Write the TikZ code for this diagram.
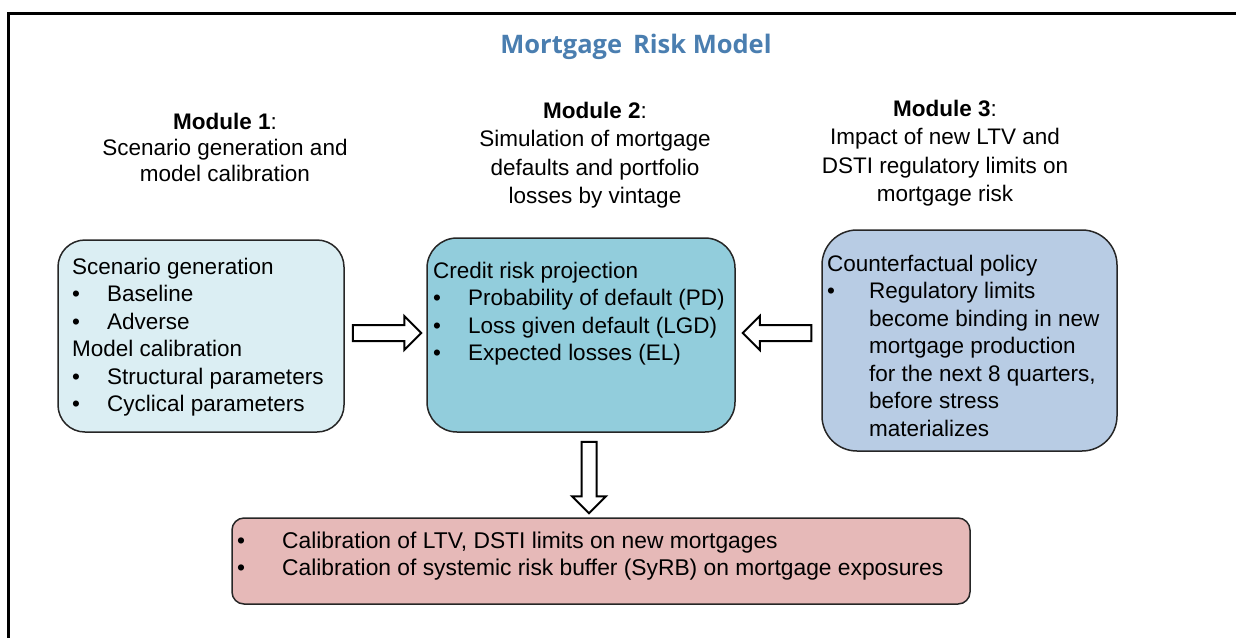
\documentclass[tikz,border=0pt]{standalone}
\usepackage{fontspec}
\setmainfont{Liberation Sans}
\newfontfamily\titlefont{Open Sans}
\usetikzlibrary{calc}
\definecolor{titleblue}{RGB}{74,126,176}
\definecolor{boxA}{RGB}{219,238,243}
\definecolor{boxB}{RGB}{146,205,220}
\definecolor{boxC}{RGB}{184,204,228}
\definecolor{boxD}{RGB}{230,185,184}
\newcommand\bodyfont{\fontsize{22.5}{27.5}\selectfont}
\newcommand\headfont{\fontsize{22.5}{28.5}\selectfont}
\begin{document}
\begin{tikzpicture}[x=1pt,y=-1pt,
  box/.style={draw=black!85, line width=1.5pt, inner sep=0pt},
  txt/.style={inner sep=0pt, anchor=base west, font=\bodyfont},
  head/.style={inner sep=0pt, anchor=base, font=\headfont},
  barrow/.style={draw=black, line width=2pt, fill=white, line join=miter}]
\useasboundingbox (0,0) rectangle (1236,638);
\draw[line width=3pt] (1236,13) -- (8,13) -- (8,638);

\node[font=\titlefont\bfseries\fontsize{25.5}{30}\selectfont, text=titleblue, inner sep=0pt] (title) at (636,47) {Mortgage\, Risk Model};

\node[head, font=\fontsize{22.5}{26}\selectfont] (m1) at (225,129) {\begin{tabular}[t]{@{}c@{}}\textbf{Module 1}:\\ Scenario generation and\\ model calibration\end{tabular}};
\node[head] (m2) at (595,118) {\begin{tabular}[t]{@{}c@{}}\textbf{Module 2}:\\ Simulation of mortgage\\ defaults and portfolio\\ losses by vintage\end{tabular}};
\node[head] (m3) at (945,116) {\begin{tabular}[t]{@{}c@{}}\textbf{Module 3}:\\ Impact of new LTV and\\ DSTI regulatory limits on\\ mortgage risk\end{tabular}};

\node[box, fill=boxA, rounded corners=27pt, minimum width=286pt, minimum height=192pt] (b1) at (201,336) {};
\node[box, fill=boxB, rounded corners=30pt, minimum width=308pt, minimum height=194pt] (b2) at (581,335) {};
\node[box, fill=boxC, rounded corners=35pt, minimum width=295pt, minimum height=221pt] (b3) at (969.5,340.5) {};
\node[box, fill=boxD, rounded corners=12pt, minimum width=738pt, minimum height=86pt] (b4) at (601,561) {};

\node[txt] (t1) at (72,274) {\begin{tabular}[t]{@{}p{35pt}@{}l@{}}
\multicolumn{2}{@{}l@{}}{Scenario generation}\\
\textbullet & Baseline\\
\textbullet & Adverse\\
\multicolumn{2}{@{}l@{}}{Model calibration}\\
\textbullet & Structural parameters\\
\textbullet & Cyclical parameters\end{tabular}};

\node[txt] (t2) at (433,278) {\begin{tabular}[t]{@{}p{35pt}@{}l@{}}
\multicolumn{2}{@{}l@{}}{Credit risk projection}\\
\textbullet & Probability of default (PD)\\
\textbullet & Loss given default (LGD)\\
\textbullet & Expected losses (EL)\end{tabular}};

\node[txt] (t3) at (827,271) {\begin{tabular}[t]{@{}p{42pt}@{}l@{}}
\multicolumn{2}{@{}l@{}}{Counterfactual policy}\\
\textbullet & Regulatory limits\\
 & become binding in new\\
 & mortgage production\\
 & for the next 8 quarters,\\
 & before stress\\
 & materializes\end{tabular}};

\node[txt, font=\fontsize{22.8}{27}\selectfont] (t4) at (237,548) {\begin{tabular}[t]{@{}p{45pt}@{}l@{}}
\textbullet & Calibration of LTV, DSTI limits on new mortgages\\
\textbullet & Calibration of systemic risk buffer (SyRB) on mortgage exposures\end{tabular}};

% block arrows between the boxes
\coordinate (a1s) at ($(b1.east)+(8,-3)$);
\coordinate (a1e) at ($(b2.west)+(-5,-2)$);
\draw[barrow] ($(a1s)+(0,-8)$) -- ($(a1e)+(-17,-8)$) -- ($(a1e)+(-17,-17)$) -- (a1e)
  -- ($(a1e)+(-17,17)$) -- ($(a1e)+(-17,8)$) -- ($(a1s)+(0,8)$) -- cycle;

\coordinate (a2s) at ($(b3.west)+(-10,-7.5)$);
\coordinate (a2e) at ($(b2.east)+(7,-2)$);
\draw[barrow] ($(a2s)+(0,-8)$) -- ($(a2e)+(17,-8)$) -- ($(a2e)+(17,-17)$) -- (a2e)
  -- ($(a2e)+(17,17)$) -- ($(a2e)+(17,8)$) -- ($(a2s)+(0,8)$) -- cycle;

\coordinate (a3s) at ($(b2.south)+(8,9)$);
\coordinate (a3e) at ($(b4.north)+(-12,-4)$);
\draw[barrow] ($(a3s)+(-7.5,0)$) -- ($(a3e)+(-7.5,-17)$) -- ($(a3e)+(-17,-17)$) -- (a3e)
  -- ($(a3e)+(17,-17)$) -- ($(a3e)+(7.5,-17)$) -- ($(a3s)+(7.5,0)$) -- cycle;
\end{tikzpicture}
\end{document}
